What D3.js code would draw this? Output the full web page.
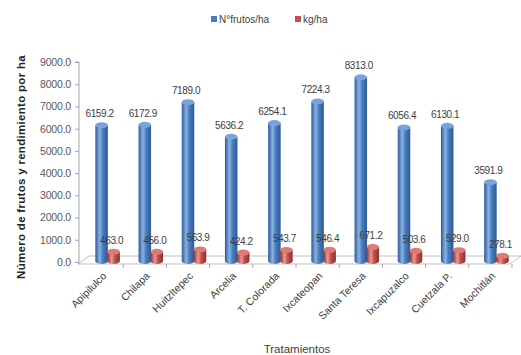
<!DOCTYPE html>
<html>
<head>
<meta charset="utf-8">
<script src="https://cdn.jsdelivr.net/npm/d3@7/dist/d3.min.js"></script>
<style>
  html, body { margin: 0; padding: 0; background: #fff; }
  svg { display: block; font-family: "Liberation Sans", Arial, sans-serif; }
</style>
</head>
<body>
<svg id="chart" width="521" height="355"></svg>
<script>
// Localidades evaluadas
const categories = ["Apipilulco", "Chilapa", "Huitzltepec", "Arcelia", "T. Colorada",
  "Ixcateopan", "Santa Teresa", "Ixcapuzalco", "Cuetzala P.", "Mochitlán"];
// Número de frutos por hectárea
const frutosHa = [6159.2, 6172.9, 7189.0, 5636.2, 6254.1, 7224.3, 8313.0, 6056.4, 6130.1, 3591.9];
// Rendimiento en kg por hectárea
const kgHa = [463.0, 456.0, 563.9, 424.2, 543.7, 546.4, 671.2, 503.6, 529.0, 278.1];
const yTicks = [0, 1000, 2000, 3000, 4000, 5000, 6000, 7000, 8000, 9000];
const seriesNames = ["N°frutos/ha", "kg/ha"];

const svg = d3.select("#chart");
const defs = svg.append("defs");

const x = d3.scaleBand().domain(categories).range([80, 512]).padding(0);
const y = d3.scaleLinear().domain([0, 9000]).range([262, 62]);

const palette = [
  { base: "#4a7ebf", dark: "#2c5a96", light: "#8ab2e4", cap: "#78a3db" },
  { base: "#c0504d", dark: "#8e2f2c", light: "#e99a97", cap: "#db7a77" }
];
palette.forEach((p, i) => {
  const g = defs.append("linearGradient").attr("id", "cyl" + i)
    .attr("x1", "0%").attr("x2", "100%").attr("y1", "0%").attr("y2", "0%");
  g.append("stop").attr("offset", "0%").attr("stop-color", p.dark);
  g.append("stop").attr("offset", "35%").attr("stop-color", p.light);
  g.append("stop").attr("offset", "60%").attr("stop-color", p.base);
  g.append("stop").attr("offset", "100%").attr("stop-color", p.dark);
});

// Piso en perspectiva
svg.append("path")
  .attr("d", "M78,264 L510,264 L521,256 L89,256 Z")
  .attr("fill", "none").attr("stroke", "#bfbfbf").attr("stroke-width", 1);

// Eje Y
const yAxis = d3.axisLeft(y).tickValues(yTicks).tickSize(4).tickPadding(4)
  .tickFormat(d => d3.format(".1f")(d));
const yg = svg.append("g").attr("transform", "translate(79,0)").call(yAxis);
yg.attr("font-family", null);
yg.select(".domain").attr("stroke", "#a6a6a6").attr("d", `M-4,${y(9000)}H0V264`);
yg.selectAll(".tick line").attr("stroke", "#a6a6a6");
yg.selectAll(".tick text").attr("fill", "#595959").attr("font-size", 10.5)
  .attr("letter-spacing", -0.2);

// Marcas del eje X entre categorías
svg.append("g").selectAll("line")
  .data(categories)
  .join("line")
  .attr("x1", (d, i) => x.range()[0] + x.step() * (i + 1))
  .attr("x2", (d, i) => x.range()[0] + x.step() * (i + 1))
  .attr("y1", 264).attr("y2", 268)
  .attr("stroke", "#a6a6a6");

const barW = 12.5, ry = 3;
const offsets = [x.bandwidth() / 2 - barW / 2, x.bandwidth() / 2 - barW / 2 + 12];
const series = [frutosHa, kgHa];

series.forEach((vals, s) => {
  const g = svg.append("g");
  const bars = g.selectAll("g.bar").data(vals.map((v, i) => ({ v, c: categories[i] })))
    .join("g").attr("class", "bar");
  const left = d => x(d.c) + offsets[s];
  const bottom = y(0) - 1;
  bars.append("ellipse")
    .attr("cx", d => left(d) + barW / 2).attr("cy", bottom)
    .attr("rx", barW / 2).attr("ry", ry)
    .attr("fill", "url(#cyl" + s + ")");
  bars.append("rect")
    .attr("x", left).attr("y", d => y(d.v))
    .attr("width", barW).attr("height", d => bottom - y(d.v))
    .attr("fill", "url(#cyl" + s + ")");
  bars.append("ellipse")
    .attr("cx", d => left(d) + barW / 2).attr("cy", d => y(d.v))
    .attr("rx", barW / 2).attr("ry", ry)
    .attr("fill", palette[s].cap);
  bars.append("text")
    .attr("x", d => left(d) + barW / 2 - 2)
    .attr("y", d => y(d.v) - 8)
    .attr("text-anchor", "middle")
    .attr("font-size", 10).attr("fill", "#404040")
    .attr("letter-spacing", -0.4)
    .text(d => d3.format(".1f")(d.v));
});

// Etiquetas de categorías
svg.append("g").selectAll("text").data(categories).join("text")
  .attr("transform", d => `translate(${x(d) + x.bandwidth() / 2 + 3},274) rotate(-45)`)
  .attr("text-anchor", "end")
  .attr("dy", "0.35em")
  .attr("font-size", 10.5).attr("fill", "#404040")
  .text(d => d);

// Títulos de ejes
svg.append("text")
  .attr("transform", "translate(21,167) rotate(-90)")
  .attr("text-anchor", "middle").attr("dy", "0.35em")
  .attr("font-size", 11.5).attr("font-weight", "bold").attr("fill", "#262626")
  .attr("letter-spacing", 0.3)
  .text("Número de frutos y rendimiento por ha");
svg.append("text")
  .attr("x", 297).attr("y", 349).attr("dy", "0.35em")
  .attr("text-anchor", "middle")
  .attr("font-size", 11.5).attr("fill", "#404040")
  .text("Tratamientos");

// Leyenda
const legX = [211, 295];
const legend = svg.append("g");
seriesNames.forEach((n, i) => {
  legend.append("rect").attr("x", legX[i]).attr("y", 16)
    .attr("width", 6).attr("height", 6).attr("fill", palette[i].base);
  legend.append("text").attr("x", legX[i] + 8).attr("y", 19).attr("dy", "0.35em")
    .attr("font-size", 10).attr("fill", "#404040").text(n);
});
</script>
</body>
</html>
